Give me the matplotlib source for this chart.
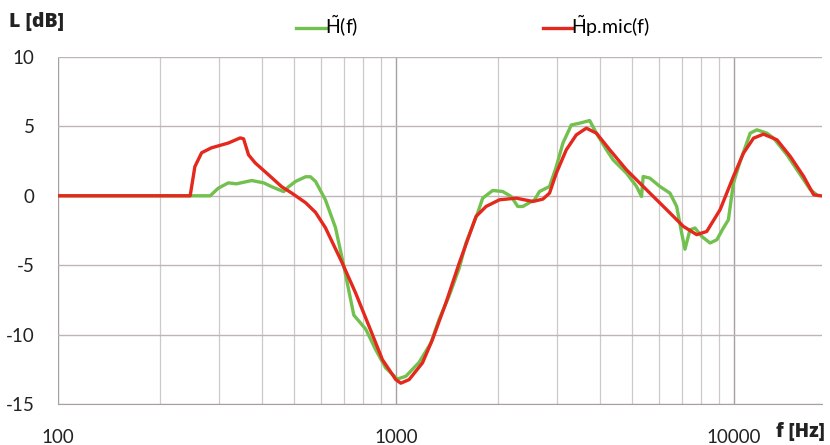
import numpy as np
import matplotlib.pyplot as plt
from matplotlib.ticker import LogLocator, NullFormatter

f_h = [100, 200, 282, 298, 319, 337, 374, 406, 429, 465, 481, 504, 540, 558, 578,
       618, 662, 701, 750, 813, 871, 932, 1009, 1069, 1170, 1268, 1341, 1436, 1538,
       1610, 1743, 1804, 1931, 2067, 2190, 2291, 2370, 2568, 2657, 2844, 2979, 3115,
       3299, 3492, 3739, 3914, 4192, 4384, 4804, 5145, 5323, 5382, 5633, 6033, 6460,
       6762, 6995, 7155, 7403, 7661, 8022, 8489, 8887, 9295, 9618, 9953, 10420,
       11157, 11680, 12503, 13085, 14336, 15700, 16813, 17500]
L_h = [0, 0, 0, 0.55, 0.93, 0.86, 1.1, 0.93, 0.65, 0.3, 0.65, 1.03, 1.37, 1.37, 1.03,
       -0.29, -2.3, -5.1, -8.6, -9.6, -11.1, -12.4, -13.2, -13.0, -12.0, -10.6, -8.9,
       -7.2, -5.2, -3.4, -1.24, -0.17, 0.38, 0.31, -0.05, -0.77, -0.77, -0.29, 0.31,
       0.67, 2.1, 3.79, 5.1, 5.23, 5.42, 4.51, 3.31, 2.59, 1.63, 0.67, -0.05, 1.39,
       1.27, 0.67, 0.19, -0.77, -2.68, -3.85, -2.45, -2.32, -2.93, -3.4, -3.17, -2.32,
       -1.73, 0.91, 2.47, 4.51, 4.75, 4.51, 4.15, 2.95, 1.51, 0.43, 0.1]

f_p = [100, 200, 246, 254, 266, 284, 319, 346, 354, 366, 383, 420, 459, 491, 540,
       578, 618, 693, 759, 832, 911, 998, 1033, 1093, 1197, 1281, 1404, 1538, 1724,
       1846, 2021, 2266, 2538, 2718, 2844, 2979, 3188, 3414, 3655, 3914, 4288, 4804,
       5508, 6316, 7073, 7750, 8299, 9090, 9953, 10657, 11412, 12218, 13392, 14665,
       16060, 17197, 18000]
L_p = [0, 0, 0, 2.1, 3.1, 3.45, 3.8, 4.17, 4.1, 2.95, 2.37, 1.5, 0.65, 0.2, -0.5,
       -1.2, -2.3, -4.84, -7.0, -9.4, -11.8, -13.24, -13.5, -13.24, -12.04, -10.36,
       -7.72, -4.84, -1.49, -0.77, -0.29, -0.17, -0.41, -0.24, 0.19, 1.63, 3.31, 4.39,
       4.87, 4.51, 3.31, 1.87, 0.43, -1.0, -2.2, -2.8, -2.57, -1.0, 1.39, 3.07, 4.15,
       4.44, 4.03, 2.83, 1.39, 0.07, 0]

x_ticks = [100, 1000, 10000]
x_labels = ['100', '1000', '10000']
y_ticks = [-15, -10, -5, 0, 5, 10]

plt.rcParams['font.family'] = ['Lato', 'DejaVu Sans']
plt.rcParams['axes.unicode_minus'] = False
plt.rcParams['mathtext.fontset'] = 'custom'
plt.rcParams['mathtext.rm'] = 'Lato'

fig = plt.figure(figsize=(8.3, 4.45), dpi=100)
ax = fig.add_axes([0.0699, 0.0921, 0.9205, 0.7799])

ax.plot(f_h, L_h, color='#72c04e', lw=2.4, label=r'$\tilde{\mathrm{H}}$(f)')
ax.plot(f_p, L_p, color='#e4281e', lw=2.4, label=r'$\tilde{\mathrm{H}}$p.mic(f)')

ax.set_xscale('log')
ax.set_xlim(100, 18200)
ax.set_ylim(-15, 10)
ax.set_yticks(y_ticks)
ax.set_xticks(x_ticks, x_labels)
ax.xaxis.set_minor_locator(LogLocator(base=10, subs=np.arange(2, 10)))
ax.xaxis.set_minor_formatter(NullFormatter())

ax.grid(which='major', axis='x', color='#a8a0a0', lw=1.0)
ax.grid(which='minor', axis='x', color='#cfc8c8', lw=0.9)
ax.grid(which='major', axis='y', color='#bdb5b5', lw=1.0)
ax.set_axisbelow(True)

for s in ['top', 'right', 'left']:
    ax.spines[s].set_visible(False)
ax.spines['bottom'].set_color('#a8a0a0')

ax.tick_params(axis='both', which='both', length=0, labelsize=13.5, colors='#222222')
ax.tick_params(axis='x', pad=18)
ax.tick_params(axis='y', pad=17)

fig.text(0.011, 0.95, 'L [dB]', fontsize=14, fontweight='heavy', family='Open Sans',
         va='center', color='#222222')
fig.text(0.994, 0.03, 'f [Hz]', fontsize=13.5, fontweight='heavy', family='Open Sans',
         ha='right', va='center', color='#222222')

ax.legend(loc='lower left', bbox_to_anchor=(0.289, 1.0), ncol=2, frameon=False,
          fontsize=14, handlelength=1.55, handletextpad=-0.1, columnspacing=9.5,
          borderaxespad=0.5)

plt.savefig('out.png', dpi=100)
